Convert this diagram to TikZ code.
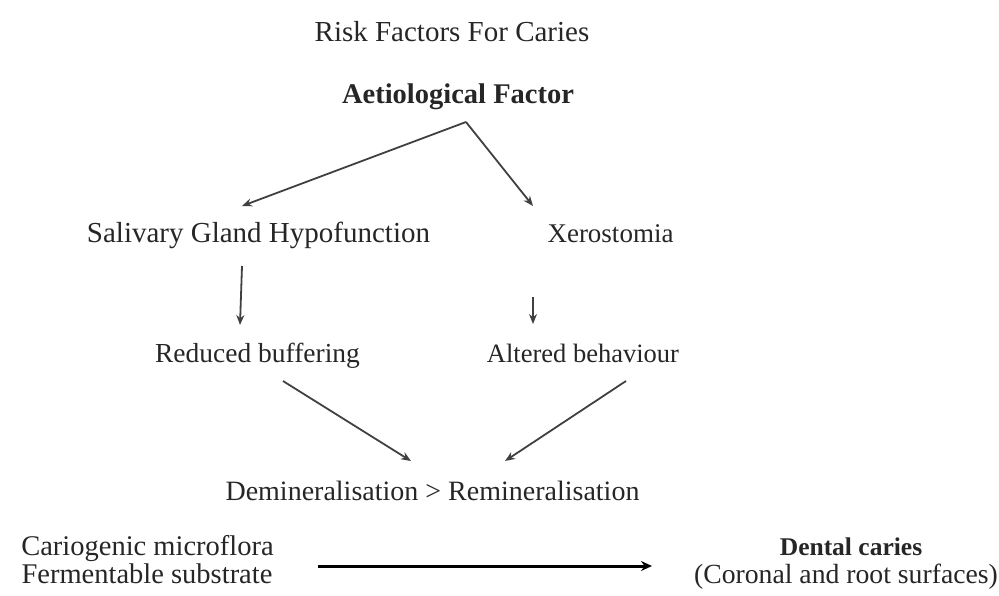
\documentclass[tikz,border=0pt]{standalone}
\usepackage{fontspec}
\setmainfont{Liberation Serif}
\usetikzlibrary{arrows.meta}
\newcommand{\fsz}[1]{\fontsize{#1}{#1}\selectfont}
\begin{document}
\begin{tikzpicture}[x=1pt,y=-1pt,
  lbl/.style={inner sep=0pt, anchor=base, text=black!85},
  arr/.style={draw=black!75, line width=1.8pt, -{Stealth[length=10pt,width=8pt]}},
  bigarr/.style={draw=black, line width=3pt, -{Stealth[length=11pt,width=10pt]}}]
\useasboundingbox (0,0) rectangle (999,595);
\node[lbl, font=\fsz{29}] (title) at (452,41) {Risk Factors For Caries};
\node[lbl, font=\fsz{28.5}\bfseries] (aet) at (458,103) {Aetiological Factor};
\node[lbl, font=\fsz{29}] (sgh) at (258.5,242) {Salivary Gland Hypofunction};
\node[lbl, font=\fsz{27}] (xer) at (610.5,242) {Xerostomia};
\node[lbl, font=\fsz{27.5}] (red) at (257.5,362) {Reduced buffering};
\node[lbl, font=\fsz{26.5}] (alt) at (583,362) {Altered behaviour};
\node[lbl, font=\fsz{28}] (dem) at (432.5,500) {Demineralisation > Remineralisation};
\node[lbl, font=\fsz{28.5}] (cario) at (147.5,555) {Cariogenic microflora};
\node[lbl, font=\fsz{28.5}] (ferm) at (147,583) {Fermentable substrate};
\node[lbl, font=\fsz{25.5}\bfseries] (dental) at (851,555) {Dental caries};
\node[lbl, font=\fsz{27.7}] (coronal) at (846,583) {(Coronal and root surfaces)};
\coordinate (apex) at (466,122);
\coordinate (sghin) at (242,206);
\coordinate (xerin) at (533,206);
\coordinate (sghout) at (242,266);
\coordinate (redin) at (240,325);
\coordinate (xerout) at (533,297);
\coordinate (altin) at (533,324);
\coordinate (redout) at (283,381);
\coordinate (demL) at (411,461);
\coordinate (altout) at (626,381);
\coordinate (demR) at (505,461);
\coordinate (carioout) at (318,566);
\coordinate (dentalin) at (652,566);
\draw[arr] (apex) -- (sghin);
\draw[arr] (apex) -- (xerin);
\draw[arr] (sghout) -- (redin);
\draw[arr] (xerout) -- (altin);
\draw[arr] (redout) -- (demL);
\draw[arr] (altout) -- (demR);
\draw[bigarr] (carioout) -- (dentalin);
\end{tikzpicture}
\end{document}
